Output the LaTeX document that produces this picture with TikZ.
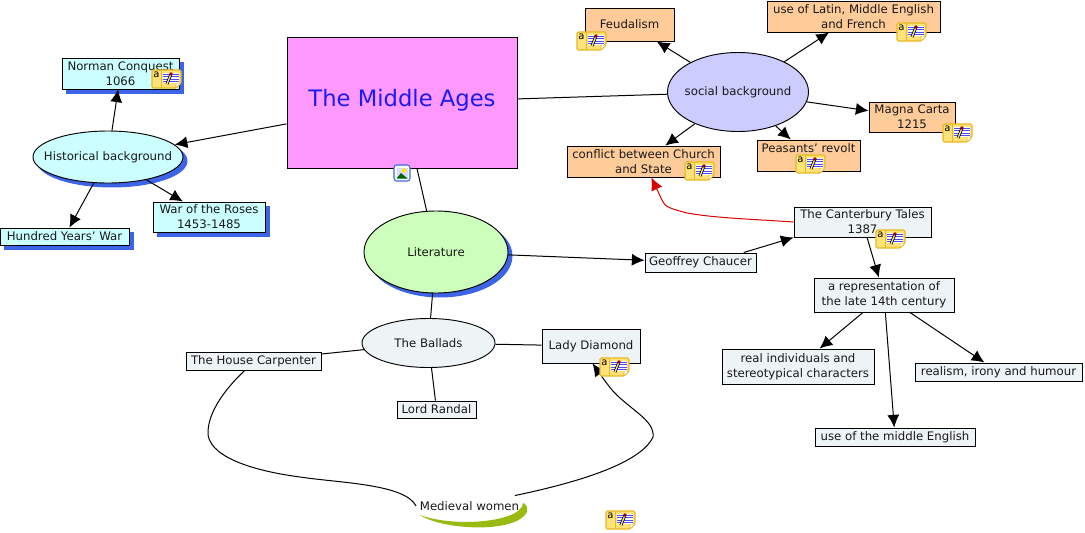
\documentclass[tikz,border=0pt]{standalone}
\usepackage{fontspec}
\setmainfont{DejaVu Sans}
\usepackage{xcolor}
\definecolor{mapink}{HTML}{FF99FF}
\definecolor{mablue}{HTML}{1A1AFF}
\definecolor{maaqua}{HTML}{CCFFFF}
\definecolor{mapeach}{HTML}{FFCC99}
\definecolor{malilac}{HTML}{CCCCFF}
\definecolor{mamint}{HTML}{CCFFBB}
\definecolor{mapale}{HTML}{EEF4F6}
\definecolor{mashadow}{HTML}{3C64E6}
\definecolor{maolive}{HTML}{99BB11}
\definecolor{manote}{HTML}{FFE27A}
\definecolor{manoteline}{HTML}{E8B820}
\usetikzlibrary{shapes.geometric, arrows.meta, positioning, shadows}
\tikzset{
  sized/.style 2 args={minimum width=#1*0.75pt, minimum height=#2*0.75pt},
  concept/.style={
    rectangle, draw=black, line width=0.7pt, inner sep=0pt, align=center,
    text=black!90, font=\fontsize{8.8}{11.2}\selectfont
  },
  bubble/.style={concept, ellipse, inner xsep=-12pt},
  shade/.style={
    general shadow={shadow xshift=3pt, shadow yshift=-3pt, fill=mashadow, draw=mashadow}
  },
  titlebox/.style={
    rectangle, draw=black, line width=0.7pt, fill=mapink, text=mablue,
    font=\fontsize{17}{20}\selectfont
  },
  arrow/.style={line width=0.75pt, -{Latex[length=9.5pt,width=9pt]}},
  link/.style={line width=0.75pt},
  noteicon/.pic={
    \fill [manote, draw=manoteline, line width=0.8pt, rounded corners=1pt]
      (0,0) -- (29,0) -- (29,13) -- (24,18) -- (0,18) -- cycle;
    \draw [manoteline, line width=0.5pt] (9,0) -- (9,18);
    \draw [manoteline, fill=white, line width=0.5pt] (24,18) -- (24,13) -- (29,13) -- cycle;
    \fill [white] (11,3) rectangle (27,13);
    \foreach \ly in {4,6.5,9,11.5} \draw [blue!70, line width=0.7pt] (11,\ly) -- (27,\ly);
    \draw [black, line width=2.2pt] (15,14) -- (19,4);
    \draw [manote, line width=1pt] (15,14) -- (19,4);
    \fill [red!60!black] (19,4) circle (1.8);
    \node (letter) [text=black, inner sep=0pt, font=\fontsize{7.5}{7.5}\selectfont] at (4.5,5) {a};
  },
  imageicon/.pic={
    \draw [mashadow, fill=white, line width=0.8pt, rounded corners=2pt] (0,0) rectangle (16,16);
    \fill [blue!15] (2.5,2.5) rectangle (13.5,13.5);
    \fill [yellow!90!orange] (10,5.5) circle (2.3);
    \fill [green!40!black] (2.5,13.5) -- (7,8) -- (13.5,13.5) -- cycle;
  },
}
\begin{document}
\begin{tikzpicture}[x=0.75pt, y=-0.75pt]
  \useasboundingbox (0,0) rectangle (1085,532);

  \node (main)     [titlebox, sized={230}{131}] at (402,102.5) {\raisebox{7pt}{The Middle Ages}};

  \node (hist)     [bubble, fill=maaqua, shade, sized={150}{52}] at (108,157) {Historical background};
  \node (norman)   [concept, fill=maaqua, shade, sized={117}{31}] at (120.5,73.5) {Norman Conquest\\1066};
  \node (hundred)  [concept, fill=maaqua, shade, sized={129}{17}] at (64.5,236.5) {Hundred Years' War};
  \node (roses)    [concept, fill=maaqua, shade, sized={112}{30}] at (209,217) {War of the Roses\\1453-1485};

  \node (social)   [bubble, fill=malilac, sized={141}{79}] at (738,92) {social background};
  \node (feudal)   [concept, fill=mapeach, sized={89}{33}] at (629.5,24.5) {Feudalism};
  \node (latin)    [concept, fill=mapeach, sized={173}{31}] at (853.5,16.5) {use of Latin, Middle English\\and French};
  \node (magna)    [concept, fill=mapeach, sized={86}{30}] at (912,117) {Magna Carta\\1215};
  \node (peasants) [concept, fill=mapeach, sized={103}{31}] at (808.5,155.5) {Peasants' revolt\\ };
  \node (conflict) [concept, fill=mapeach, sized={153}{31}] at (643.5,161.5) {conflict between Church\\and State};

  \node (lit)      [bubble, fill=mamint, shade, sized={144}{82}] at (436,252) {Literature};
  \node (geoffrey) [concept, fill=mapale, sized={111}{19}] at (700.5,262.5) {Geoffrey Chaucer};
  \node (tales)    [concept, fill=mapale, sized={137}{30}] at (862.5,222) {The Canterbury Tales\\1387};
  \node (repr)     [concept, fill=mapale, sized={140}{34}] at (884,295) {a representation of\\the late 14th century};
  \node (real)     [concept, fill=mapale, sized={152}{35}] at (798,366.5) {real individuals and\\stereotypical characters};
  \node (realism)  [concept, fill=mapale, sized={167}{18}] at (998.5,372) {realism, irony and humour};
  \node (middle)   [concept, fill=mapale, sized={160}{18}] at (895,437) {use of the middle English};

  \node (ballads)  [bubble, fill=mapale, sized={133}{49}] at (428.5,343) {The Ballads};
  \node (house)    [concept, fill=mapale, sized={135}{18}] at (253.5,361) {The House Carpenter};
  \node (lady)     [concept, fill=mapale, sized={98}{34}] at (591,346) {Lady Diamond};
  \node (lord)     [concept, fill=mapale, sized={79}{17}] at (436.5,409.5) {Lord Randal};

  \fill [maolive] (420,515) .. controls (442,530) and (516,534) .. (527,512)
    .. controls (528,507) and (526,504) .. (523,503)
    .. controls (522,522) and (455,528) .. cycle;
  \node (women)    [concept, draw=none, sized={106}{20}] at (469.5,506) {Medieval women};

  \draw [arrow] (main)   -- (hist);
  \draw [arrow] (hist)   -- (norman);
  \draw [arrow] (hist)   -- (hundred);
  \draw [arrow] (hist)   -- (roses);
  \draw [link]  (main)   -- (social);
  \draw [arrow] (social) -- (feudal);
  \draw [arrow] (social) -- (latin);
  \draw [arrow] (social) -- (magna);
  \draw [arrow] (social) -- (peasants);
  \draw [arrow] (social) -- (conflict);
  \draw [link]  (main)   -- (lit);
  \draw [arrow] (lit)    -- (geoffrey);
  \draw [arrow] (geoffrey.13) -- (tales.south west);
  \draw [arrow] (tales)  -- (repr);
  \draw [arrow] (repr)   -- (real);
  \draw [arrow] (repr)   -- (realism);
  \draw [arrow] (repr)   -- (middle);
  \draw [link]  (lit)    -- (ballads);
  \draw [link]  (ballads) -- (house);
  \draw [link]  (ballads) -- (lady);
  \draw [link]  (ballads) -- (lord);
  \draw [arrow, red!85!black] (tales.west) .. controls (750,219) and (715,218) .. (687,213)
    .. controls (672,209) and (664,207) .. (662,200) -- (conflict.-64);
  \draw [link] (house.-133) .. controls (222,392) and (207,415) .. (208,435)
    .. controls (212,460) and (262,472) .. (300,477)
    .. controls (340,483) and (405,484) .. (women.west);
  \draw [arrow] (women.13) .. controls (570,484) and (640,465) .. (653,437)
    .. controls (655,420) and (630,410) .. (612,390)
    .. controls (604,380) and (600,374) .. (lady.-85);

  \pic (n1) at (152,70)  {noteicon};
  \pic (n2) at (577,32)  {noteicon};
  \pic (n3) at (897,23)  {noteicon};
  \pic (n4) at (943,124) {noteicon};
  \pic (n5) at (796,155) {noteicon};
  \pic (n6) at (685,162) {noteicon};
  \pic (n7) at (876,230) {noteicon};
  \pic (n8) at (600,358) {noteicon};
  \pic (n9) at (606,511) {noteicon};
  \pic (img) at (394,165) {imageicon};
\end{tikzpicture}
\end{document}
